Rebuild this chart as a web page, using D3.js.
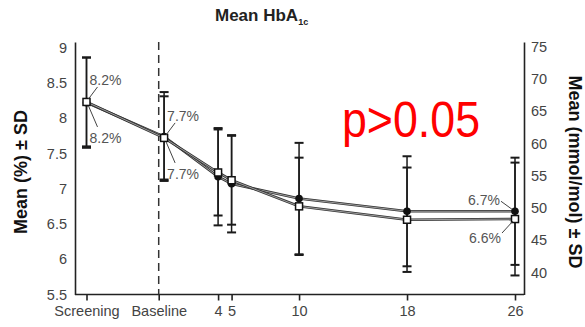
<!DOCTYPE html>
<html>
<head>
<meta charset="utf-8">
<script src="https://cdn.jsdelivr.net/npm/d3@7"></script>
<style>
  html, body { margin: 0; padding: 0; background: #fff; }
  svg { display: block; }
  .tick-label { font-family: "Liberation Sans Narrow", "Liberation Sans", Arial, sans-serif; font-size: 14.5px; fill: #444; }
  .anno { font-family: "Liberation Sans Narrow", "Liberation Sans", Arial, sans-serif; font-size: 14px; fill: #555; }
  .axis-title { font-family: "Liberation Sans", Arial, sans-serif; font-weight: bold; font-size: 18px; fill: #111; }
</style>
</head>
<body>
<svg id="chart" width="585" height="327"></svg>
<script>
// visits (x in weeks)
const xTickLabels = ["Screening", "Baseline", "4", "5", "10", "18", "26"];
const xTickWeeks = [-5.75, -0.4, 4, 5, 10, 18, 26];
const visitWeeks = [-5.75, 0, 4, 5, 10, 18, 26];

// HbA1c % mean and SD, two arms
const circleMean = [8.22, 7.74, 7.17, 7.07, 6.86, 6.68, 6.68];
const circleSD = [0.64, 0.63, 0.69, 0.69, 0.79, 0.78, 0.76];
const squareMean = [8.23, 7.72, 7.23, 7.12, 6.75, 6.56, 6.57];
const squareSD = [0.63, 0.59, 0.61, 0.63, 0.69, 0.74, 0.80];

// axes
const leftTicks = [5.5, 6, 6.5, 7, 7.5, 8, 8.5, 9];
const leftDomain = [5.5, 9.08];
const rightTicks = [40, 45, 50, 55, 60, 65, 70, 75];
const rightDomain = [36.6, 75.7];

// value labels: visit index, series, text, placement
const annoVisit = [0, 0, 1, 1, 6, 6];
const annoSeries = ["square", "square", "square", "square", "circle", "square"];
const annoText = ["8.2%", "8.2%", "7.7%", "7.7%", "6.7%", "6.6%"];
const annoPlace = ["up", "down", "up", "down", "left-up", "left-down"];

const svg = d3.select('#chart');
const plotL = 75, plotR = 524, plotT = 42, plotB = 294.5;

const x = d3.scaleLinear().domain([-5.75, 26]).range([86.5, 515]);
const y = d3.scaleLinear().domain(leftDomain).range([plotB, plotT]);
const yR = d3.scaleLinear().domain(rightDomain).range([plotB, plotT]);

// title
const title = svg.append('text')
    .attr('x', 215).attr('y', 21)
    .attr('font-family', '"Liberation Sans", Arial, sans-serif')
    .attr('font-weight', 'bold').attr('font-size', '17px').attr('fill', '#222')
    .text('Mean HbA');
title.append('tspan').attr('font-size', '9px').attr('dy', 4).text('1c');

// left axis
const gL = svg.append('g').attr('transform', `translate(${plotL},0)`)
    .call(d3.axisLeft(y).tickValues(leftTicks).tickSize(0).tickPadding(8).tickFormat(d3.format('')));
gL.select('.domain').attr('stroke', '#222').attr('stroke-width', 1.6);
gL.selectAll('text').attr('class', 'tick-label');
gL.attr('font-family', null).attr('font-size', null);

// right axis
const gR = svg.append('g').attr('transform', `translate(${plotR},0)`)
    .call(d3.axisRight(yR).tickValues(rightTicks).tickSize(0).tickPadding(7));
gR.select('.domain').attr('stroke', '#222').attr('stroke-width', 1.6);
gR.selectAll('text').attr('class', 'tick-label');
gR.attr('font-family', null).attr('font-size', null);

// bottom axis
const xAxis = d3.axisBottom(x).tickValues(xTickWeeks).tickSize(6).tickPadding(5)
    .tickFormat((d, i) => xTickLabels[i]);
const gB = svg.append('g').attr('transform', `translate(0,${plotB})`).call(xAxis);
gB.select('.domain').attr('d', `M${plotL},0H${plotR}`).attr('stroke', '#222').attr('stroke-width', 1.6);
gB.selectAll('.tick line').attr('stroke', '#222').attr('stroke-width', 1.6);
gB.selectAll('text').attr('class', 'tick-label');
gB.attr('font-family', null).attr('font-size', null);

// dashed baseline marker
svg.append('line')
    .attr('x1', x(xTickWeeks[1])).attr('x2', x(xTickWeeks[1]))
    .attr('y1', plotT).attr('y2', plotB)
    .attr('stroke', '#333').attr('stroke-width', 1.5).attr('stroke-dasharray', '8,5');

// axis titles
svg.append('text').attr('class', 'axis-title')
    .attr('transform', 'translate(21,172) rotate(-90)')
    .attr('text-anchor', 'middle').attr('dominant-baseline', 'central')
    .text('Mean (%) ± SD');
svg.append('text').attr('class', 'axis-title')
    .attr('transform', 'translate(575,172) rotate(90)')
    .attr('text-anchor', 'middle').attr('dominant-baseline', 'central')
    .text('Mean (mmol/mol) ± SD');

const series = [
    { key: 'circle', mean: circleMean, sd: circleSD },
    { key: 'square', mean: squareMean, sd: squareSD }
];

// error bars
series.forEach(s => {
    const g = svg.append('g').attr('stroke', '#1a1a1a');
    visitWeeks.forEach((w, i) => {
        const cx = x(w), hi = y(s.mean[i] + s.sd[i]), lo = y(s.mean[i] - s.sd[i]);
        g.append('line').attr('x1', cx).attr('x2', cx).attr('y1', hi).attr('y2', lo).attr('stroke-width', 1.5);
        g.append('line').attr('x1', cx - 4.5).attr('x2', cx + 4.5).attr('y1', hi).attr('y2', hi).attr('stroke-width', 2);
        g.append('line').attr('x1', cx - 4.5).attr('x2', cx + 4.5).attr('y1', lo).attr('y2', lo).attr('stroke-width', 2);
    });
});

// lines
const line = d3.line().x((d, i) => x(visitWeeks[i])).y(d => y(d));
series.forEach(s => {
    svg.append('path').datum(s.mean).attr('d', line)
        .attr('fill', 'none').attr('stroke', '#333').attr('stroke-width', 2.6);
    svg.append('path').datum(s.mean).attr('d', line)
        .attr('fill', 'none').attr('stroke', '#aaa').attr('stroke-width', 0.9);
});

// markers
svg.append('g').selectAll('circle').data(circleMean).join('circle')
    .attr('cx', (d, i) => x(visitWeeks[i])).attr('cy', d => y(d))
    .attr('r', 3.8).attr('fill', '#111');
svg.append('g').selectAll('rect').data(squareMean).join('rect')
    .attr('x', (d, i) => x(visitWeeks[i]) - 3.5).attr('y', d => y(d) - 3.5)
    .attr('width', 7).attr('height', 7)
    .attr('fill', '#fff').attr('stroke', '#111').attr('stroke-width', 1.5);

// value labels with leader lines
const place = {
    'up': { lx: [2, 11], ly: [-3, -15], tx: 3, ty: -17, anchor: 'start' },
    'down': { lx: [2, 11], ly: [4, 25], tx: 3, ty: 41, anchor: 'start' },
    'left-up': { lx: [-3, -14], ly: [-2, -10], tx: -15, ty: -6, anchor: 'end' },
    'left-down': { lx: [-2, -13], ly: [2, 14], tx: -14, ty: 24, anchor: 'end' }
};
annoText.forEach((t, k) => {
    const i = annoVisit[k];
    const v = annoSeries[k] === 'circle' ? circleMean[i] : squareMean[i];
    const cx = x(visitWeeks[i]), cy = y(v), p = place[annoPlace[k]];
    svg.append('line')
        .attr('x1', cx + p.lx[0]).attr('y1', cy + p.ly[0])
        .attr('x2', cx + p.lx[1]).attr('y2', cy + p.ly[1])
        .attr('stroke', '#444').attr('stroke-width', 1);
    svg.append('text').attr('class', 'anno')
        .attr('x', cx + p.tx).attr('y', cy + p.ty)
        .attr('text-anchor', p.anchor)
        .text(t);
});

// significance note
svg.append('text')
    .attr('x', 342).attr('y', 137)
    .attr('font-family', '"Liberation Sans", Arial, sans-serif')
    .attr('font-size', '50px').attr('fill', '#ff0000')
    .attr('textLength', 138).attr('lengthAdjust', 'spacingAndGlyphs')
    .text('p>0.05');
</script>
</body>
</html>
